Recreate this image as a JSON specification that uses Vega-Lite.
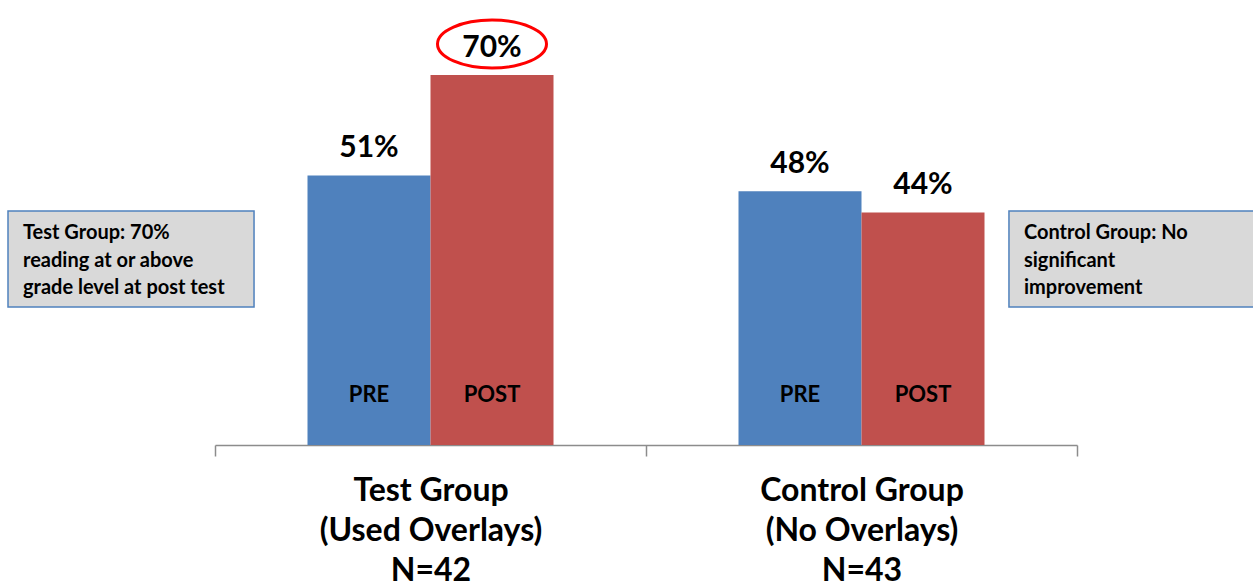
{
  "$schema": "https://vega.github.io/schema/vega-lite/v6.json",
  "width": 862,
  "height": 445,
  "autosize": {"type": "none"},
  "padding": {"left": 215, "top": 0, "right": 176, "bottom": 141},
  "background": "white",
  "config": {"view": {"stroke": null}, "font": "Lato"},
  "layer": [
    {
      "data": {"values": [
        {"group": "Test Group|(Used Overlays)|N=42", "phase": "PRE", "value": 0.51, "circled": false},
        {"group": "Test Group|(Used Overlays)|N=42", "phase": "POST", "value": 0.70, "circled": true},
        {"group": "Control Group|(No Overlays)|N=43", "phase": "PRE", "value": 0.48, "circled": false},
        {"group": "Control Group|(No Overlays)|N=43", "phase": "POST", "value": 0.44, "circled": false}
      ]},
      "encoding": {
        "x": {
          "field": "group", "type": "nominal", "sort": null,
          "scale": {"paddingInner": 0, "paddingOuter": 0},
          "axis": {
            "title": null, "labelExpr": "split(datum.label, '|')", "labelAngle": 0,
            "labelFontSize": 32, "labelFontWeight": "bold", "labelColor": "#000000",
            "labelFont": "Lato", "labelLineHeight": 40, "labelPadding": 19,
            "labelBaseline": "top", "labelLimit": 0, "labelOverlap": false,
            "tickBand": "extent", "tickSize": 11, "tickColor": "#8C8C8C", "tickWidth": 1.5,
            "domainColor": "#8C8C8C", "domainWidth": 1.5, "grid": false
          }
        },
        "xOffset": {"field": "phase", "type": "nominal", "sort": ["PRE", "POST"], "scale": {"paddingInner": 0, "paddingOuter": 0.752}},
        "y": {"field": "value", "type": "quantitative", "scale": {"domain": [0, 0.842]}, "axis": null}
      },
      "layer": [
        {
          "mark": {"type": "bar"},
          "encoding": {
            "color": {"field": "phase", "type": "nominal", "scale": {"domain": ["PRE", "POST"], "range": ["#4F81BD", "#C0504D"]}, "legend": null}
          }
        },
        {
          "mark": {"type": "text", "dy": -18, "fontSize": 30, "fontWeight": "bold", "baseline": "alphabetic", "color": "#000000", "font": "Lato"},
          "encoding": {"text": {"field": "value", "type": "quantitative", "format": ".0%"}}
        },
        {
          "mark": {"type": "text", "dy": -43, "fontSize": 22, "fontWeight": "bold", "baseline": "alphabetic", "color": "#000000", "font": "Lato"},
          "encoding": {"y": {"datum": 0}, "text": {"field": "phase", "type": "nominal"}}
        },
        {
          "transform": [{"filter": "datum.circled"}],
          "mark": {
            "type": "point",
            "shape": "M1,-0.569 C1,-0.326 0.552,-0.129 0,-0.129 C-0.552,-0.129 -1,-0.326 -1,-0.569 C-1,-0.812 -0.552,-1.009 0,-1.009 C0.552,-1.009 1,-0.812 1,-0.569 Z",
            "size": 11881, "filled": false, "stroke": "#FF0000", "strokeWidth": 3, "opacity": 1
          }
        }
      ]
    },
    {
      "data": {"values": [
        {"note": "left", "kind": "note", "text": "Test Group: 70%|reading at or above|grade level at post test"},
        {"note": "right", "kind": "note", "text": "Control Group: No|significant|improvement"}
      ]},
      "transform": [{"calculate": "split(datum.text, '|')", "as": "lines"}],
      "encoding": {
        "x": {"field": "note", "type": "nominal", "sort": null, "scale": {"domain": ["left", "right"], "range": [-207, 1040], "paddingInner": 0.7542, "paddingOuter": 0}, "axis": null},
        "y": {"field": "kind", "type": "nominal", "scale": {"range": [211, 307], "paddingInner": 0, "paddingOuter": 0}, "axis": null}
      },
      "layer": [
        {"mark": {"type": "rect", "fill": "#D9D9D9", "stroke": "#4F81BD", "strokeWidth": 1.5}},
        {
          "mark": {"type": "text", "align": "left", "baseline": "alphabetic", "dx": 15, "dy": 28, "fontSize": 20, "fontWeight": "bold", "lineHeight": 27.5, "color": "#000000", "font": "Lato"},
          "encoding": {
            "x": {"field": "note", "type": "nominal", "bandPosition": 0},
            "y": {"field": "kind", "type": "nominal", "bandPosition": 0},
            "text": {"field": "lines"}
          }
        }
      ]
    }
  ],
  "resolve": {"scale": {"x": "independent", "y": "independent"}}
}
